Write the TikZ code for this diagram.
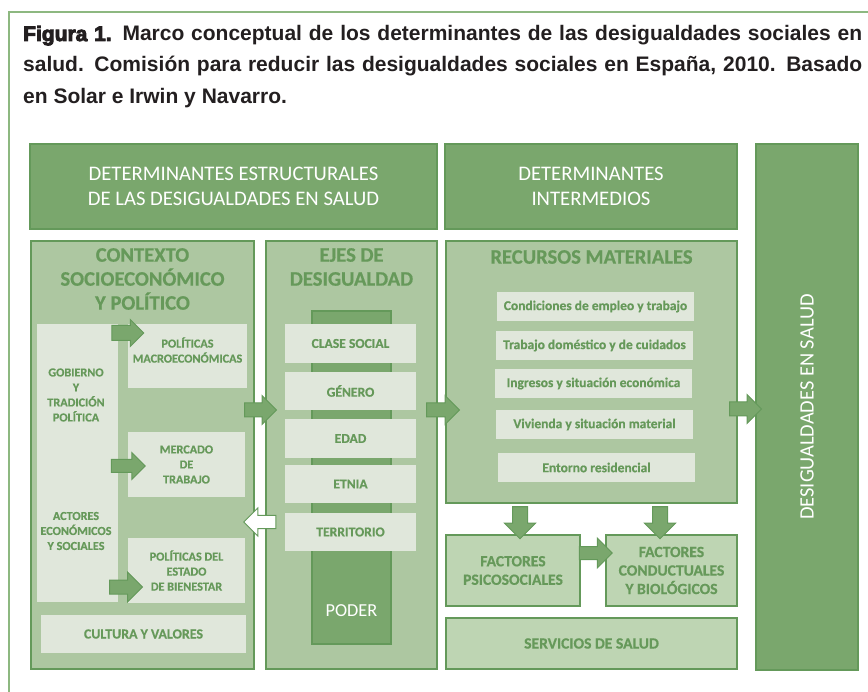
\documentclass[tikz,border=0pt]{standalone}
\usepackage{fontspec}
\setmainfont{Carlito}[BoldFeatures={FakeBold=0.6}]
\newfontfamily\titlefont{Liberation Sans}
\newcommand\heavytxt[1]{\special{pdf:literal direct 2 Tr 0.9 w}#1\special{pdf:literal direct 0 Tr}}
\usetikzlibrary{shapes.arrows,calc}
\definecolor{dg}{HTML}{7AA76D}
\definecolor{bd}{HTML}{64995A}
\definecolor{lg}{HTML}{ADC7A1}
\definecolor{pg}{HTML}{E0E7DB}
\definecolor{fg}{HTML}{BED5B3}
\definecolor{tg}{HTML}{66995A}
\definecolor{fr}{HTML}{8DB880}
\definecolor{tt}{HTML}{231F20}
\tikzset{
  darkbox/.style={draw=bd, fill=dg, line width=1.2pt, inner sep=0pt, text=white, align=center, font=\fontsize{20.7}{25}\selectfont},
  lightbox/.style={draw=bd, fill=lg, line width=1.5pt, inner sep=0pt},
  palebox/.style={fill=pg, inner sep=0pt, text=tg, align=center},
  factbox/.style={draw=bd, fill=fg, line width=1.5pt, inner sep=0pt, text=tg, align=center, font=\bfseries\fontsize{15.6}{18.5}\selectfont},
  hdr/.style={text=tg, align=center, inner sep=0pt, font=\bfseries\fontsize{20.6}{24}\selectfont},
  small/.style={font=\bfseries\fontsize{12.2}{15}\selectfont},
  axis/.style={palebox, minimum width=131pt, font=\bfseries\fontsize{13.6}{15}\selectfont},
  resitem/.style={palebox, minimum width=197pt, minimum height=29pt, font=\bfseries\fontsize{13.5}{15}\selectfont},
  barrow/.style={single arrow, draw=bd, fill=dg, line width=1pt, inner xsep=0pt, single arrow tip angle=90},
  warrow/.style={barrow, fill=white},
  ttl/.style={anchor=base west, inner sep=0pt, text=tt, font=\titlefont\bfseries\fontsize{21}{21}\selectfont}
}
\begin{document}
\begin{tikzpicture}[x=1pt,y=-1pt]
\useasboundingbox (0,0) rectangle (868,692);
\fill[white] (0,0) rectangle (868,692);
\draw[fr, line width=1.3pt] (9,692) -- (9,12) -- (868,12);

% title
\node[ttl] (t1) at (23,41) {\makebox[839pt][s]{\heavytxt{Figura 1.} Marco conceptual de los determinantes de las desigualdades sociales en}};
\node[ttl] (t2) at (23,72) {\makebox[839pt][s]{salud. Comisión para reducir las desigualdades sociales en España, 2010. Basado}};
\node[ttl] (t3) at (23,104) {en Solar e Irwin y Navarro.};

% top boxes
\node[darkbox, minimum width=407pt, minimum height=85pt] (est) at (233.5,186.5) {DETERMINANTES ESTRUCTURALES\\DE LAS DESIGUALDADES EN SALUD};
\node[darkbox, minimum width=292pt, minimum height=85pt] (inter) at (591,186.5) {DETERMINANTES\\INTERMEDIOS};
\node[darkbox, rotate=90, minimum width=526pt, minimum height=102pt, font=\fontsize{20.4}{22}\selectfont] (dsal) at (807,407) {DESIGUALDADES EN SALUD};

% contexto
\node[lightbox, minimum width=223pt, minimum height=428pt] (ctx) at (142.5,455) {};
\node[hdr] (hctx) at (142.5,279) {CONTEXTO\\SOCIOECONÓMICO\\Y POLÍTICO};
\node[palebox, minimum width=81pt, minimum height=278pt] (gob) at (77.5,463) {};
\node[text=tg, align=center, inner sep=0pt, small] (tgob) at (76,395) {GOBIERNO\\Y\\TRADICIÓN\\POLÍTICA};
\node[text=tg, align=center, inner sep=0pt, small] (tact) at (76,531) {ACTORES\\ECONÓMICOS\\Y SOCIALES};
\node[palebox, minimum width=119pt, minimum height=64pt] (polmac) at (187.5,356) {};
\node[text=tg, align=center, inner sep=0pt, small] (tpolmac) at (187.5,350) {POLÍTICAS\\MACROECONÓMICAS};
\node[palebox, small, minimum width=117pt, minimum height=65pt] (merc) at (186.5,464.5) {MERCADO\\DE\\TRABAJO};
\node[palebox, small, minimum width=117pt, minimum height=65pt] (bien) at (186.5,570.5) {POLÍTICAS DEL\\ESTADO\\DE BIENESTAR};
\node[palebox, minimum width=205pt, minimum height=38pt, font=\bfseries\fontsize{13.9}{15}\selectfont] (cult) at (143.5,634) {CULTURA Y VALORES};

% ejes
\node[lightbox, minimum width=171pt, minimum height=428pt] (ejes) at (351.5,455) {};
\node[hdr] (hejes) at (351.5,267) {EJES DE\\DESIGUALDAD};
\node[draw=bd, fill=dg, line width=1.2pt, inner sep=0pt, minimum width=79pt, minimum height=333pt] (poder) at (351.5,477.5) {};
\node[text=white, inner sep=0pt, font=\fontsize{18.3}{20}\selectfont] (tpoder) at (351.5,611) {PODER};
\node[axis, minimum height=39pt] (clase) at (350.5,343.5) {CLASE SOCIAL};
\node[axis, minimum height=38pt] (gen) at (350.5,391) {GÉNERO};
\node[axis, minimum height=39pt] (edad) at (350.5,438.5) {EDAD};
\node[axis, minimum height=38pt] (etnia) at (350.5,484) {ETNIA};
\node[axis, minimum height=38pt] (terr) at (350.5,532) {TERRITORIO};

% recursos
\node[lightbox, minimum width=291pt, minimum height=262pt] (recm) at (591.5,372) {};
\node[hdr] (hrecm) at (591.5,257) {RECURSOS MATERIALES};
\node[resitem] (r1) at (595.5,306.5) {Condiciones de empleo y trabajo};
\node[resitem] (r2) at (594.5,345.5) {Trabajo doméstico y de cuidados};
\node[resitem] (r3) at (593.5,383.5) {Ingresos y situación económica};
\node[resitem] (r4) at (594.5,424.5) {Vivienda y situación material};
\node[resitem] (r5) at (596.5,467.5) {Entorno residencial};

\node[factbox, minimum width=134pt, minimum height=71pt] (psi) at (513,570.5) {FACTORES\\PSICOSOCIALES};
\node[factbox, minimum width=131pt, minimum height=71pt] (cond) at (671.5,570.5) {FACTORES\\CONDUCTUALES\\Y BIOLÓGICOS};
\node[factbox, minimum width=291pt, minimum height=51pt] (serv) at (591.5,643.5) {SERVICIOS DE SALUD};

% block arrows
\node[barrow, minimum height=32pt, inner ysep=7pt, single arrow head extend=6pt] (a1) at (124,333) {};
\node[barrow, minimum height=34pt, inner ysep=6pt, single arrow head extend=7pt] (a2) at (125,466) {};
\node[barrow, minimum height=33pt, inner ysep=6.5pt, single arrow head extend=8pt] (a3) at (122.5,587) {};
\node[barrow, minimum height=32pt, inner ysep=6.5pt, single arrow head extend=7.5pt] (a4) at (257,410) {};
\node[warrow, minimum height=32pt, inner ysep=6pt, single arrow head extend=7.5pt, shape border rotate=180] (a5) at (263,522) {};
\node[barrow, minimum height=33pt, inner ysep=6.5pt, single arrow head extend=7.5pt] (a6) at (439.5,410) {};
\node[barrow, minimum height=32pt, inner ysep=6.5pt, single arrow head extend=7.5pt] (a7) at (742,409) {};
\node[barrow, rotate=-90, minimum height=32pt, inner ysep=7pt, single arrow head extend=8pt] (a8) at (520,519) {};
\node[barrow, rotate=-90, minimum height=32pt, inner ysep=7pt, single arrow head extend=8pt] (a9) at (660,519) {};
\node[barrow, minimum height=33pt, inner ysep=6pt, single arrow head extend=8.5pt] (a10) at (592.5,553) {};
\end{tikzpicture}
\end{document}
